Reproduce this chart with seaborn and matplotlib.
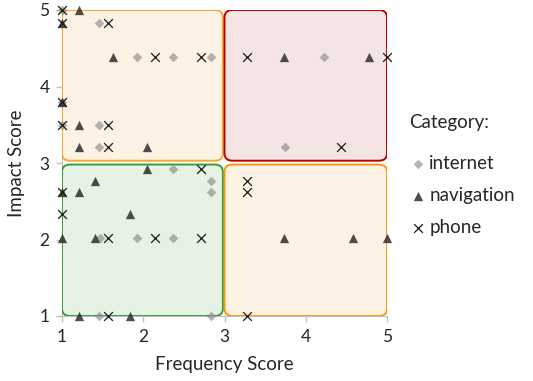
import pandas as pd
import seaborn as sb
import matplotlib.pyplot as plt
from matplotlib.patches import FancyBboxPatch

# Points, one list per category
internet_x = [1, 1.455, 1.92, 2.37, 2.83, 4.22, 1, 1, 1.455, 1.455, 3.75, 2.37, 2.83, 2.83, 1.47, 1.92, 2.37, 1.455, 2.83]
internet_y = [5, 4.83, 4.39, 4.39, 4.39, 4.39, 3.8, 3.5, 3.5, 3.21, 3.21, 2.92, 2.76, 2.62, 2.02, 2.02, 2.02, 1, 1]

navigation_x = [1.21, 1, 1.63, 3.73, 4.78, 1, 1.21, 1.21, 2.04, 2.04, 1.41, 1, 1.21, 1.84, 1, 1.41, 3.73, 4.58, 5, 1.21, 1.84]
navigation_y = [5, 4.83, 4.39, 4.39, 4.39, 3.8, 3.5, 3.21, 3.21, 2.92, 2.76, 2.62, 2.62, 2.33, 2.02, 2.02, 2.02, 2.02, 2.02, 1, 1]

phone_x = [1, 1, 1.56, 2.145, 2.71, 3.28, 5, 1, 1, 1.56, 1.56, 4.43, 2.71, 1, 3.28, 3.28, 1, 1.56, 2.145, 2.71, 1.56, 3.28]
phone_y = [5, 4.83, 4.83, 4.39, 4.39, 4.39, 4.39, 3.8, 3.5, 3.5, 3.21, 3.21, 2.92, 2.62, 2.76, 2.62, 2.33, 2.02, 2.02, 2.02, 1, 1]

# Quadrant boxes: (x0, y0, x1, y1, edge, fill)
quadrants = [
    (1.0, 3.03, 2.98, 5.0, '#f7a833', '#fdf3e5'),
    (1.0, 1.0, 2.98, 2.98, '#3c9a3c', '#e5f2e4'),
    (3.0, 3.03, 5.0, 5.0, '#c00000', '#f4e4e4'),
    (3.0, 1.0, 5.0, 2.98, '#f59a0a', '#fdf3e5'),
]

df = pd.concat([
    pd.DataFrame({'x': internet_x, 'y': internet_y, 'Category': 'internet'}),
    pd.DataFrame({'x': navigation_x, 'y': navigation_y, 'Category': 'navigation'}),
    pd.DataFrame({'x': phone_x, 'y': phone_y, 'Category': 'phone'}),
])

sb.set_style('white')
plt.rcParams['font.family'] = ['Lato', 'DejaVu Sans']

fig = plt.figure(figsize=(5.33, 3.81), dpi=100)
ax = fig.add_axes([62 / 533, 1 - 316 / 381, 325 / 533, 306 / 381])

for x0, y0, x1, y1, edge, fill in quadrants:
    box = FancyBboxPatch((x0, y0), x1 - x0, y1 - y0,
                         boxstyle='round,pad=0,rounding_size=0.1',
                         mutation_aspect=0.95,
                         facecolor=fill, edgecolor=edge, linewidth=1.4, zorder=1)
    ax.add_patch(box)

styles = {
    'internet': dict(marker='D', color='#8c8c8c', alpha=0.65, s=24, linewidth=0),
    'navigation': dict(marker='^', color='#2e2e2e', alpha=0.85, s=45, linewidth=0),
    'phone': dict(marker='x', color='#1a1a1a', alpha=1.0, s=40, linewidth=0.9),
}
for cat, kw in styles.items():
    sb.scatterplot(data=df[df['Category'] == cat], x='x', y='y', ax=ax,
                   clip_on=False, zorder=3, label=cat, **kw)

ax.set_xlim(1, 5)
ax.set_ylim(1, 5)
ax.set_xticks([1, 2, 3, 4, 5])
ax.set_yticks([1, 2, 3, 4, 5])
ax.set_xlabel('Frequency Score', fontsize=13.5, color='#262626', labelpad=8)
ax.set_ylabel('Impact Score', fontsize=13.5, color='#262626', labelpad=10)
ax.tick_params(axis='both', labelsize=12.5, colors='#bfbfbf', labelcolor='#262626',
               length=4, width=1, direction='out', bottom=True, left=True, pad=5)
for side in ['top', 'right']:
    ax.spines[side].set_visible(False)
for side in ['bottom', 'left']:
    ax.spines[side].set_color('#bfbfbf')
    ax.spines[side].set_zorder(0)

leg = ax.legend(title='Category:', loc='upper left', bbox_to_anchor=(1.015, 0.714),
                frameon=False, fontsize=13.5, title_fontsize=13.5,
                handletextpad=0.1, labelspacing=0.8, handlelength=1.0)
leg._legend_box.align = 'left'
leg._legend_box.sep = 17
leg.get_title().set_color('#262626')
for t in leg.get_texts():
    t.set_color('#262626')

fig.savefig('out.png', dpi=100)
